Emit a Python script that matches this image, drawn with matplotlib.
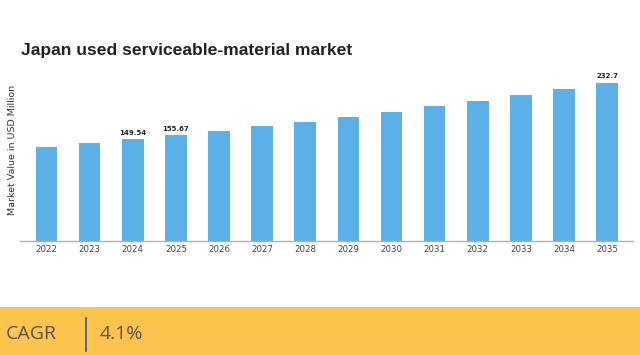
import matplotlib
matplotlib.use("Agg")
import matplotlib.pyplot as plt
from matplotlib.patches import Rectangle
from matplotlib.lines import Line2D

years = ["2022", "2023", "2024", "2025", "2026", "2027", "2028",
         "2029", "2030", "2031", "2032", "2033", "2034", "2035"]
values = [138.0, 143.7, 149.54, 155.67, 162.0, 168.6, 175.5,
          182.7, 190.2, 198.0, 206.2, 214.6, 223.4, 232.7]
labelled = {"2024": "149.54", "2025": "155.67", "2035": "232.7"}
cagr = "4.1%"

fig = plt.figure(figsize=(6.4, 3.55), dpi=100)
ax = fig.add_axes([20 / 640, 1 - 241 / 355, 613 / 640, 166 / 355])

x = list(range(len(years)))
ax.bar(x, values, width=0.5, color="#5bb1e7")
for i, y in enumerate(years):
    if y in labelled:
        ax.annotate(labelled[y], (i, values[i]), xytext=(0, 2.5),
                    textcoords="offset points", ha="center", va="bottom",
                    fontsize=5, fontweight="bold", color="#222222")

ax.set_xlim(-0.615, 13.6)
ax.set_ylim(0, 244)
ax.set_xticks(x)
ax.set_xticklabels(years, fontsize=6.2, color="#444444")
ax.tick_params(axis="x", length=0, pad=3)
ax.set_yticks([])
for s in ["left", "right", "top"]:
    ax.spines[s].set_visible(False)
ax.spines["bottom"].set_color("#b0b0b0")
ax.spines["bottom"].set_linewidth(1.0)

fig.text(21 / 640, 1 - 50 / 355, "Japan used serviceable-material market",
         fontsize=12.6, fontweight="bold", family="Liberation Sans",
         color="#222222", va="center", ha="left")
fig.text(13 / 640, 1 - 150 / 355, "Market Value in USD Million",
         rotation=90, fontsize=6.8, color="#333333", va="center", ha="center")

# bottom banner
fig.patches.append(Rectangle((0, 0), 1, 1 - 307 / 355, transform=fig.transFigure,
                             facecolor="#ffc44d", edgecolor="none", zorder=0))
fig.lines.append(Line2D([86 / 640, 86 / 640], [1 - 318 / 355, 1 - 351 / 355],
                        transform=fig.transFigure, color="#2a5ca8", linewidth=1.2))
fig.text(6 / 640, 1 - 334 / 355, "CAGR", family="Open Sans", fontsize=14,
         color="#555555", va="center", ha="left")
fig.text(100 / 640, 1 - 334 / 355, cagr, family="Open Sans", fontsize=14,
         color="#555555", va="center", ha="left")

fig.savefig("out.png", dpi=100)
